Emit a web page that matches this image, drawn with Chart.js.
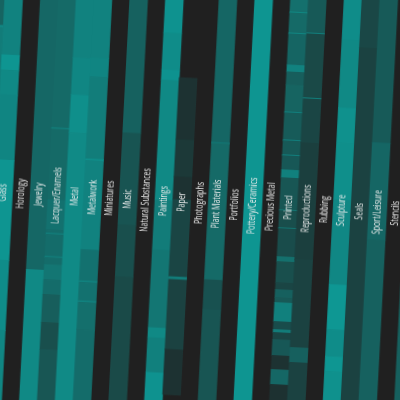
<!DOCTYPE html>
<html><head><meta charset="utf-8">
<script src="https://cdn.jsdelivr.net/npm/chart.js@4/dist/chart.umd.min.js"></script>
<style>
html,body{margin:0;padding:0;width:400px;height:400px;overflow:hidden;background:#202020;}
#wrap{position:absolute;left:-20px;top:-20px;width:440px;height:440px;transform:rotate(3deg);transform-origin:50% 50%;}
canvas{display:block;}
</style></head><body>
<div id="wrap"><canvas id="c" width="440" height="440"></canvas></div>
<script>
const categories = ['Furniture','Glass','Horology','Jewelry','Lacquer/Enamels','Metal','Metalwork','Miniatures','Music','Natural Substances','Paintings','Paper','Photographs','Plant Materials','Portfolios','Pottery/Ceramics','Precious Metal','Printed','Reproductions','Rubbing','Sculpture','Seals','Sport/Leisure','Stencils','Textiles'];

// Each column: [fromRow, toRow, intensity 0..1]; empty columns have no cells
const furniture = [[0,14,0.55],[14,14.5,0.85],[14.5,110,0.75]];
const glass = [[0,21.3,0.8],[21.3,25.1,0.95],[25.1,31.3,0.85],[31.3,47.6,0.82],[47.6,72.6,0.95],[72.6,90.1,0.88],[90.1,110,0.83]];
const horology = [];
const jewelry = [[0,74.6,0.58],[74.6,110,0.85]];
const lacquer = [[0,38.8,0.6],[38.8,39.2,0.75],[39.2,56.9,0.6],[56.9,64.4,0.66],[64.4,65.2,0.62],[65.2,65.6,0.75],[65.6,71,0.62],[71,71.4,0.75],[71.4,73.1,0.62],[73.1,76.9,0.7],[76.9,80.6,0.62],[80.6,87.6,0.5],[87.6,94.4,0.38],[94.4,110,0.44]];
const metal = [[0,21.1,0.8],[21.1,30.4,0.83],[30.4,39.9,0.9],[39.9,110,0.86]];
const metalwork = [[0,20.9,0.8],[20.9,25.65,0.82],[25.65,46.2,0.76],[46.2,46.6,0.9],[46.6,68.9,0.8],[68.9,76.7,0.66],[76.7,77.1,0.8],[77.1,81.7,0.66],[81.7,82.1,0.8],[82.1,88.9,0.64],[88.9,110,0.62]];
const miniatures = [];
const music = [[0,39.2,0.53],[39.2,62.2,0.42],[62.2,75.2,0.38],[75.2,110,0.34]];
const naturalSubstances = [];
const paintings = [[0,13.7,0.93],[13.7,23,0.88],[23,25.5,0.93],[25.5,55.5,0.85],[55.5,68,0.75],[68,87.5,0.7],[87.5,90,0.85],[90,98.7,0.78],[98.7,110,0.93]];
const paper = [[24.7,40.2,0.15],[40.2,49.5,0.2],[49.5,55.2,0.15],[55.2,74.5,0.3],[74.5,75.2,0.75],[75.2,92.7,0.28],[92.7,104,0.15]];
const photographs = [];
const plantMaterials = [[0,40.4,0.57],[40.4,40.7,0.7],[40.7,74.8,0.6],[74.8,82.3,0.4],[82.3,110,0.43]];
const portfolios = [];
const pottery = [[0,110,0.95]];
const preciousMetal = [];
const printed = [[0,6.85,0.65],[6.85,7.1,0.85],[7.1,12.1,0.6],[12.1,12.35,0.85],[12.35,20.1,0.56],[20.1,21.85,0.8],[21.85,25.1,0.5],[25.1,31.85,0.55],[31.85,32.1,0.8],[32.1,38.85,0.48],[38.85,39.1,0.8],[39.1,42.6,0.46],[42.6,42.85,0.8],[42.85,46.35,0.45],[46.35,48.35,0.78],[48.35,56.35,0.44],[56.35,56.6,0.7],[56.6,60.85,0.37],[60.85,61.1,0.7],[61.1,68.1,0.36],[68.1,69.35,0.65],[69.35,74.6,0.38],[74.6,76.35,0.3],[76.35,78.35,0.52],[78.35,79.6,0.46],[79.6,84.35,0.78],[84.35,86.35,0.36],[86.35,87.1,0.75],[87.1,88.85,0.3],[88.85,92.85,0.45],[92.85,96.35,0.15],[96.35,100.1,0.58],[100.1,110,0.14]];
const reproductions = [[0,11.85,0.46],[11.85,12.1,0.8],[12.1,28.1,0.33],[28.1,28.35,0.8],[28.35,39.35,0.3],[39.35,68.6,0.25],[68.6,90.6,0.28],[90.6,94.35,0.52],[94.35,110,0.28]];
const rubbing = [];
const sculpture = [[0,13.15,0.88],[13.15,30.15,0.85],[30.15,38.9,0.92],[38.9,53.15,0.9],[53.15,74.4,0.84],[74.4,85.65,0.97],[85.65,92.4,0.88],[92.4,96.15,0.96],[96.15,110,0.92]];
const seals = [[0,14.9,0.32],[14.9,110,0.28]];
const sportLeisure = [[0,38.4,0.47],[38.4,62.7,0.57],[62.7,110,0.53]];
const stencils = [];
const textiles = [[0,110,0.52]];

const columnCells = [furniture, glass, horology, jewelry, lacquer, metal, metalwork, miniatures, music, naturalSubstances, paintings, paper, photographs, plantMaterials, portfolios, pottery, preciousMetal, printed, reproductions, rubbing, sculpture, seals, sportLeisure, stencils, textiles];

const lowColor = [32,32,32], highColor = [13,155,151];
function shade(v){
  const c = lowColor.map((l,k)=>Math.round(l + v*(highColor[k]-l)));
  return `rgb(${c[0]},${c[1]},${c[2]})`;
}

const points = [], colors = [];
columnCells.forEach((cells, i) => cells.forEach(([a,b,v]) => { points.push({x:i, y:[a,b]}); colors.push(shade(v)); }));

const labelPlugin = {
  id:'colLabels',
  afterDatasetsDraw(chart){
    const {ctx, chartArea, scales:{x}} = chart;
    const yMid = (chartArea.top + chartArea.bottom)/2 + 3;
    ctx.save();
    ctx.fillStyle = '#eeeeee';
    ctx.font = '10.5px "Open Sans"';
    ctx.textAlign = 'center';
    ctx.textBaseline = 'middle';
    categories.forEach((name, i) => {
      const px = x.getPixelForValue(i);
      ctx.save();
      ctx.translate(px, yMid);
      ctx.rotate(-Math.PI/2);
      ctx.scale(0.67, 1);
      ctx.fillText(name, 0, 0);
      ctx.restore();
    });
    ctx.restore();
  }
};

new Chart(document.getElementById('c'), {
  type:'bar',
  data:{ datasets:[{ data:points, backgroundColor:colors, borderWidth:0, barPercentage:1, categoryPercentage:1 }] },
  options:{
    responsive:false, animation:false, devicePixelRatio:1,
    layout:{padding:0},
    plugins:{legend:{display:false}, tooltip:{enabled:false}},
    scales:{
      x:{type:'linear', min:-0.3117, max:24.352, offset:false, display:false},
      y:{type:'linear', min:0, max:110, reverse:true, display:false}
    }
  },
  plugins:[labelPlugin]
});
</script>
</body></html>
